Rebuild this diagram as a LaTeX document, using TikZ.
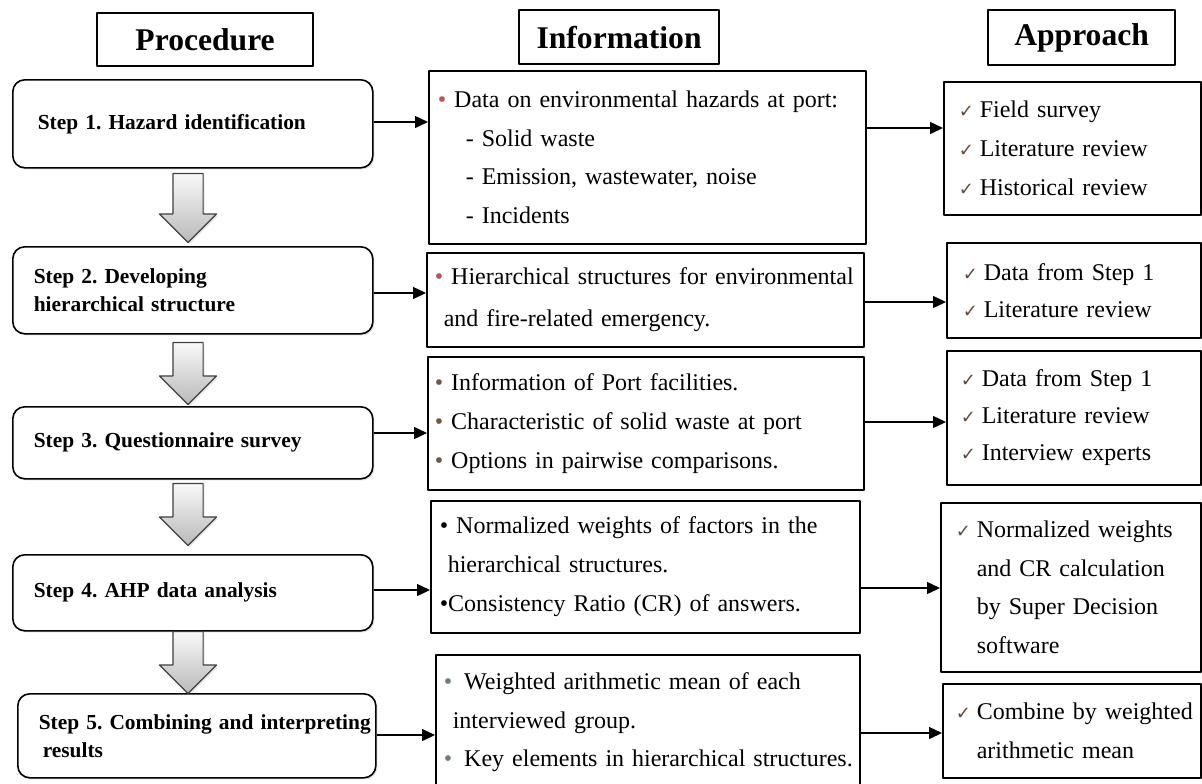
\documentclass[tikz,border=0pt]{standalone}
\usepackage{fontspec}
\setmainfont{Liberation Serif}
\newfontfamily\symfont{DejaVu Sans}
\usetikzlibrary{arrows.meta,shapes.arrows,shadows}
\definecolor{bulred}{HTML}{B05A5A}
\definecolor{bulbrown}{HTML}{705A45}
\definecolor{bulgray}{HTML}{6E7C7C}
\definecolor{chkbrown}{HTML}{5E4B3C}
\frenchspacing
\newcommand\bul[1]{\textcolor{#1}{•}}
\newcommand\chk{\makebox[10.5pt][l]{\textcolor{chkbrown}{\symfont\fontsize{9}{9}\selectfont ✓}}}
\begin{document}
\begin{tikzpicture}[>={Triangle[length=6.5pt,width=6pt]}, x=0.5pt, y=-0.5pt, line join=round,
    headbox/.style={draw, line width=1.1pt, anchor=north west, inner sep=0pt, font=\bfseries\fontsize{15.8}{18}\selectfont},
    stepbox/.style={draw, line width=0.8pt, rounded corners=6pt, anchor=north west, align=left, inner xsep=10.5pt, text width=159pt,
        font=\bfseries\fontsize{10.7}{14}\selectfont, fill=white, drop shadow={opacity=0.25, shadow xshift=0.8pt, shadow yshift=-0.8pt}},
    infobox/.style={draw, line width=0.8pt, anchor=north west, align=left, font=\fontsize{12}{19.4}\selectfont},
    flowarr/.style={single arrow, shape border rotate=270, draw=black!75, line width=0.6pt, top color=gray!5, bottom color=gray!55,
        minimum width=28pt, single arrow head extend=6.75pt, single arrow tip angle=90, inner sep=7.25pt,
        drop shadow={opacity=0.2, shadow xshift=0.8pt, shadow yshift=-0.8pt}},
    link/.style={->, line width=0.7pt}]
    \useasboundingbox (0,0) rectangle (1202,783);
    \clip (0,0) rectangle (1202,783);
    % column heads
    \node[headbox, minimum width=108pt, minimum height=26.5pt] (hproc) at (96,12) {Procedure};
    \node[headbox, minimum width=100pt, minimum height=27pt] (hinfo) at (518,9) {Information};
    \node[headbox, minimum width=93.5pt, minimum height=27.5pt] (happ) at (987,9) {Approach};
    % procedure
    \node[stepbox, minimum height=44pt] (st1) at (12,79) {\hspace*{2pt}Step 1. Hazard identification};
    \node[stepbox, minimum height=43.5pt] (st2) at (12,246) {Step 2. Developing\\hierarchical structure};
    \node[stepbox, minimum height=36pt] (st3) at (12,406) {Step 3. Questionnaire survey};
    \node[stepbox, minimum height=38pt] (st4) at (12,554) {Step 4. AHP data analysis};
    \node[stepbox, minimum height=42pt, text width=158pt] (st5) at (17,693) {\mbox{Step 5. Combining and interpreting}\\\hspace*{2pt}results};
    \node[flowarr, minimum height=34.5pt] (fa1) at (188,200.5) {};
    \node[flowarr, minimum height=31pt] (fa2) at (188,366) {};
    \node[flowarr, minimum height=31pt] (fa3) at (188,507) {};
    \node[flowarr, minimum height=31pt] (fa4) at (188,655) {};
    % information
    \node[infobox, minimum height=86.5pt, inner xsep=4.5pt, text width=209.5pt] (in1) at (428,70)
        {\bul{bulred} Data on environmental hazards at port:\\
         \hspace*{14pt}- Solid waste\\
         \hspace*{14pt}- Emission, wastewater, noise\\
         \hspace*{14pt}- Incidents};
    \node[infobox, minimum height=47pt, inner xsep=4pt, text width=210.5pt] (in2) at (426,252)
        {\mbox{\bul{bulred} Hierarchical structures for environmental}\\[1.5pt]
         \hspace*{4.5pt}and fire-related emergency.};
    \node[infobox, minimum height=66.5pt, inner xsep=3.5pt, text width=211pt] (in3) at (427,356)
        {\bul{bulbrown} Information of Port facilities.\\
         \bul{bulbrown} Characteristic of solid waste at port\\
         \bul{bulbrown} Options in pairwise comparisons.};
    \node[infobox, minimum height=66pt, inner xsep=4.5pt, text width=205.5pt] (in4) at (430,500)
        {\bul{black} Normalized weights of factors in the\\
         \hspace*{4pt}hierarchical structures.\\
         \bul{black}Consistency Ratio (CR) of answers.};
    \node[infobox, minimum height=67.5pt, inner xsep=4pt, text width=204pt] (in5) at (435,654)
        {\bul{bulgray}\, Weighted arithmetic mean of each\\
         \hspace*{4.5pt}interviewed group.\\
         \mbox{\bul{bulgray}\, Key elements in hierarchical structures.}};
    % approach
    \node[infobox, minimum height=66.5pt, inner xsep=7.5pt, text width=113.5pt] (ap1) at (943,81)
        {\chk Field survey\\ \chk Literature review\\ \chk Historical review};
    \node[infobox, minimum height=47.5pt, inner xsep=8pt, text width=111pt, font=\fontsize{12}{18.5}\selectfont] (ap2) at (946,242)
        {\chk Data from Step 1\\ \chk Literature review};
    \node[infobox, minimum height=67pt, inner xsep=7pt, text width=113pt, font=\fontsize{12}{18.5}\selectfont] (ap3) at (946,350)
        {\chk Data from Step 1\\ \chk Literature review\\ \chk Interview experts};
    \node[infobox, minimum height=84.5pt, inner xsep=7.5pt, text width=115pt] (ap4) at (940,502)
        {\chk Normalized weights\\ \hspace*{10.5pt}and CR calculation\\ \hspace*{10.5pt}by Super Decision\\ \hspace*{10.5pt}software};
    \node[infobox, minimum height=47pt, inner xsep=6.5pt, text width=116pt] (ap5) at (942,683)
        {\mbox{\chk Combine by weighted}\\ \hspace*{10.5pt}arithmetic mean};
    % links
    \foreach \i/\ya/\yb in {1/122/128, 2/293/302, 3/433/422, 4/590/588, 5/735/733} {
        \draw[link] (st\i.east |- 0,\ya) -- (in\i.west |- 0,\ya);
        \draw[link] (in\i.east |- 0,\yb) -- (ap\i.west |- 0,\yb);
    }
\end{tikzpicture}
\end{document}
